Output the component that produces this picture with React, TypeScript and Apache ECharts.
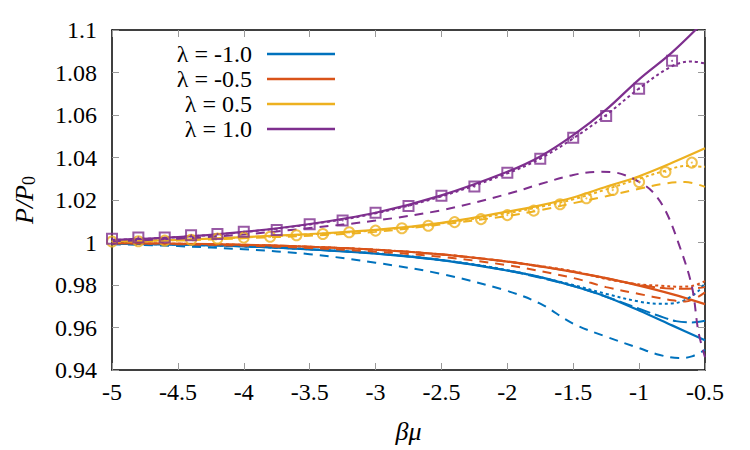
import React, { useEffect, useRef } from "react";
import * as echarts from "echarts";

const FONT = "Liberation Serif";
const BLUE = "#0072BD";
const RED = "#D95319";
const YELLOW = "#EDB120";
const PURPLE = "#7E2F8E";

const legendNames = ["λ = -1.0", "λ = -0.5", "λ = 0.5", "λ = 1.0"];
const xTicks = { min: -5, max: -0.5, interval: 0.5 };
const yTicks = { min: 0.94, max: 1.1, interval: 0.02 };

// common x grid for the solid curves
const xSolid = [-5, -4.5, -4, -3.5, -3, -2.5, -2, -1.75, -1.5, -1.25, -1, -0.75, -0.5];

// λ = 1.0
const purpleSolid = [1.0012, 1.0025, 1.005, 1.0087, 1.014, 1.0222, 1.0333, 1.0405, 1.0505, 1.0625, 1.0768, 1.0895, 1.1045];
const xPurpleDotted = [-5, -4.5, -4, -3.5, -3, -2.5, -2, -1.75, -1.5, -1.25, -1, -0.75, -0.6, -0.5];
const purpleDotted = [1.0012, 1.0025, 1.0049, 1.0085, 1.0137, 1.0217, 1.0325, 1.0395, 1.049, 1.06, 1.0725, 1.083, 1.0852, 1.0842];
const xPurpleDashed = [-5, -4.5, -4, -3.5, -3, -2.5, -2, -1.75, -1.5, -1.3, -1.2, -1.1, -1.0, -0.9, -0.8, -0.7, -0.6, -0.55, -0.5];
const purpleDashed = [1.0005, 1.0018, 1.0038, 1.0068, 1.0103, 1.0152, 1.0228, 1.0275, 1.0318, 1.0333, 1.0331, 1.0315, 1.0285, 1.024, 1.015, 0.9995, 0.9795, 0.958, 0.946];
const xSquares = [-5, -4.8, -4.6, -4.4, -4.2, -4, -3.75, -3.5, -3.25, -3, -2.75, -2.5, -2.25, -2, -1.75, -1.5, -1.25, -1, -0.75];
const squares = [1.0018, 1.0024, 1.0023, 1.0034, 1.004, 1.0051, 1.0059, 1.0086, 1.0104, 1.014, 1.0172, 1.022, 1.0263, 1.0328, 1.0394, 1.0493, 1.0595, 1.0724, 1.0855];

// λ = 0.5
const yellowSolid = [1.0004, 1.0012, 1.0025, 1.004, 1.0059, 1.0092, 1.0145, 1.0175, 1.0212, 1.0262, 1.0312, 1.0375, 1.0443];
const xYellowAlt = [-5, -4.5, -4, -3.5, -3, -2.5, -2, -1.75, -1.5, -1.25, -1, -0.8, -0.65, -0.5];
const yellowDashed = [1.0003, 1.0009, 1.002, 1.0032, 1.005, 1.0085, 1.0125, 1.0152, 1.0185, 1.0218, 1.0253, 1.0278, 1.0285, 1.0262];
const yellowDotted = [1.0004, 1.0012, 1.0024, 1.0038, 1.0057, 1.009, 1.0138, 1.0168, 1.0203, 1.025, 1.03, 1.0338, 1.036, 1.0356];
const xCircles = [-5, -4.8, -4.6, -4.4, -4.2, -4, -3.8, -3.6, -3.4, -3.2, -3, -2.8, -2.6, -2.4, -2.2, -2, -1.8, -1.6, -1.4, -1.2, -1, -0.8, -0.6];
const circles = [1.0005, 1.0006, 1.0009, 1.0013, 1.0019, 1.0023, 1.0027, 1.0034, 1.004, 1.0048, 1.0056, 1.0067, 1.0079, 1.0096, 1.011, 1.0129, 1.015, 1.018, 1.0208, 1.0247, 1.0285, 1.0332, 1.0376];

// λ = -0.5
const redSolid = [0.9997, 0.9994, 0.9989, 0.998, 0.9966, 0.9944, 0.991, 0.9888, 0.9862, 0.9832, 0.9797, 0.9757, 0.971];
const xRedDashed = [-5, -4.5, -4, -3.5, -3, -2.5, -2, -1.5, -1.25, -1, -0.9, -0.75, -0.65, -0.57, -0.5];
const redDashed = [0.9997, 0.9992, 0.9985, 0.9974, 0.9957, 0.9932, 0.9893, 0.9833, 0.979, 0.9758, 0.9745, 0.9728, 0.9722, 0.9738, 0.9765];
const xRedDotted = [-5, -4.5, -4, -3.5, -3, -2.5, -2, -1.5, -1.25, -1, -0.85, -0.7, -0.6, -0.5];
const redDotted = [0.9997, 0.9994, 0.9989, 0.998, 0.9966, 0.9944, 0.991, 0.9865, 0.9828, 0.9803, 0.9797, 0.9792, 0.9795, 0.9818];
const xRedDashDot = [-5, -4.5, -4, -3.5, -3, -2.5, -2, -1.5, -1.25, -1, -0.8, -0.65, -0.5];
const redDashDot = [0.9997, 0.9994, 0.9989, 0.998, 0.9966, 0.9944, 0.991, 0.9862, 0.9832, 0.98, 0.9785, 0.9782, 0.979];

// λ = -1.0
const blueSolid = [0.9995, 0.999, 0.9982, 0.9968, 0.9948, 0.9917, 0.9868, 0.9837, 0.9795, 0.9745, 0.968, 0.961, 0.954];
const xBlueDashed = [-5, -4.5, -4, -3.5, -3, -2.5, -2, -1.75, -1.5, -1.25, -1, -0.85, -0.7, -0.6, -0.5];
const blueDashed = [0.9992, 0.9983, 0.9968, 0.9945, 0.9905, 0.9852, 0.9772, 0.9712, 0.9618, 0.9557, 0.9503, 0.9472, 0.9456, 0.9464, 0.9495];
const xBlueDotted = [-5, -4.5, -4, -3.5, -3, -2.5, -2, -1.5, -1.25, -1, -0.85, -0.75, -0.65, -0.55, -0.5];
const blueDotted = [0.9995, 0.999, 0.9982, 0.9968, 0.9949, 0.9918, 0.987, 0.98, 0.9758, 0.9722, 0.9712, 0.9713, 0.973, 0.9772, 0.981];
const xBlueDashDot = [-5, -4.5, -4, -3.5, -3, -2.5, -2, -1.5, -1.25, -1, -0.85, -0.72, -0.6, -0.5];
const blueDashDot = [0.9995, 0.999, 0.9982, 0.9968, 0.9948, 0.9917, 0.9868, 0.9795, 0.9745, 0.9688, 0.9655, 0.963, 0.9624, 0.9632];

const pairs = (xs: number[], ys: number[]) => xs.map((x, i) => [x, ys[i]]);

const DASHED = [9, 7];
const DOTTED = [3, 3];
const LONGDASH = [14, 5];

function line(name: string, xs: number[], ys: number[], color: string, type: any, width = 2) {
  return {
    name,
    type: "line",
    data: pairs(xs, ys),
    symbol: "none",
    showSymbol: false,
    smooth: 0.35,
    clip: true,
    lineStyle: { color, width, type },
    itemStyle: { color },
    z: 3,
  };
}

function marks(name: string, xs: number[], ys: number[], color: string, symbol: string) {
  return [
    {
      name,
      type: "scatter",
      data: pairs(xs, ys),
      symbol,
      symbolSize: 10,
      itemStyle: { color: "rgba(255,255,255,0)", borderColor: color, borderWidth: 2 },
      clip: true,
      z: 4,
    },
    {
      name: name + " centre",
      type: "scatter",
      data: pairs(xs, ys),
      symbol: "circle",
      symbolSize: 2,
      itemStyle: { color },
      clip: true,
      z: 4,
    },
  ];
}

export default function App() {
  const ref = useRef<HTMLDivElement>(null);
  useEffect(() => {
    if (!ref.current) return;
    const chart = echarts.init(ref.current, undefined, { renderer: "svg" });
    const axisCommon = {
      axisLine: { show: true, lineStyle: { color: "#000", width: 1.5 } },
      axisTick: { show: true, inside: true, length: 7, lineStyle: { color: "#999", width: 1 } },
      splitLine: { show: false },
    };
    chart.setOption({
      animation: false,
      backgroundColor: "#fff",
      textStyle: { fontFamily: FONT },
      grid: { left: 112, right: 45, top: 30, bottom: 80, containLabel: false },
      legend: {
        orient: "vertical",
        left: 157,
        top: 37,
        align: "right",
        icon: "rect",
        itemWidth: 68,
        itemHeight: 2.5,
        itemGap: 1,
        selectedMode: false,
        data: legendNames,
        textStyle: {
          fontFamily: FONT,
          fontSize: 24,
          color: "#000",
          width: 90,
          align: "right",
          lineHeight: 24,
          padding: [0, 10, 0, 0],
        },
      },
      xAxis: [
        {
          type: "value",
          ...xTicks,
          ...axisCommon,
          name: "βμ",
          nameLocation: "middle",
          nameGap: 48,
          nameTextStyle: { fontFamily: FONT, fontSize: 26, fontStyle: "italic", color: "#000" },
          axisLabel: { fontFamily: FONT, fontSize: 24, color: "#000", margin: 10 },
        },
        {
          type: "value",
          position: "top",
          ...xTicks,
          ...axisCommon,
          axisLabel: { show: false },
        },
      ],
      yAxis: [
        {
          type: "value",
          ...yTicks,
          ...axisCommon,
          name: "{it|P}{it|/}{it|P}{sub|0}",
          nameLocation: "middle",
          nameGap: 74,
          nameTextStyle: {
            fontFamily: FONT,
            fontSize: 26,
            color: "#000",
            rich: {
              it: { fontFamily: FONT, fontSize: 26, fontStyle: "italic", color: "#000" },
              sub: { fontFamily: FONT, fontSize: 18, color: "#000", verticalAlign: "bottom", padding: [9, 0, 0, 0] },
            },
          },
          axisLabel: { fontFamily: FONT, fontSize: 24, color: "#000", margin: 15 },
        },
        {
          type: "value",
          position: "right",
          ...yTicks,
          ...axisCommon,
          axisLabel: { show: false },
        },
      ],
      series: [
        line(legendNames[0], xSolid, blueSolid, BLUE, "solid", 2.2),
        line(legendNames[1], xSolid, redSolid, RED, "solid", 2.2),
        line(legendNames[2], xSolid, yellowSolid, YELLOW, "solid", 2.2),
        line(legendNames[3], xSolid, purpleSolid, PURPLE, "solid", 2.2),
        line("blue dashed", xBlueDashed, blueDashed, BLUE, DASHED),
        line("blue dotted", xBlueDotted, blueDotted, BLUE, DOTTED),
        line("blue long dash", xBlueDashDot, blueDashDot, BLUE, LONGDASH),
        line("red dashed", xRedDashed, redDashed, RED, DASHED),
        line("red dotted", xRedDotted, redDotted, RED, DOTTED),
        line("red long dash", xRedDashDot, redDashDot, RED, LONGDASH),
        line("yellow dashed", xYellowAlt, yellowDashed, YELLOW, DASHED),
        line("yellow dotted", xYellowAlt, yellowDotted, YELLOW, DOTTED),
        line("purple dashed", xPurpleDashed, purpleDashed, PURPLE, DASHED),
        line("purple dotted", xPurpleDotted, purpleDotted, PURPLE, DOTTED),
        ...marks("yellow circles", xCircles, circles, YELLOW, "circle"),
        ...marks("purple squares", xSquares, squares, PURPLE, "rect"),
      ],
    });
    return () => chart.dispose();
  }, []);
  return <div ref={ref} style={{ width: 750, height: 450, position: "absolute", left: 0, top: 0 }} />;
}
